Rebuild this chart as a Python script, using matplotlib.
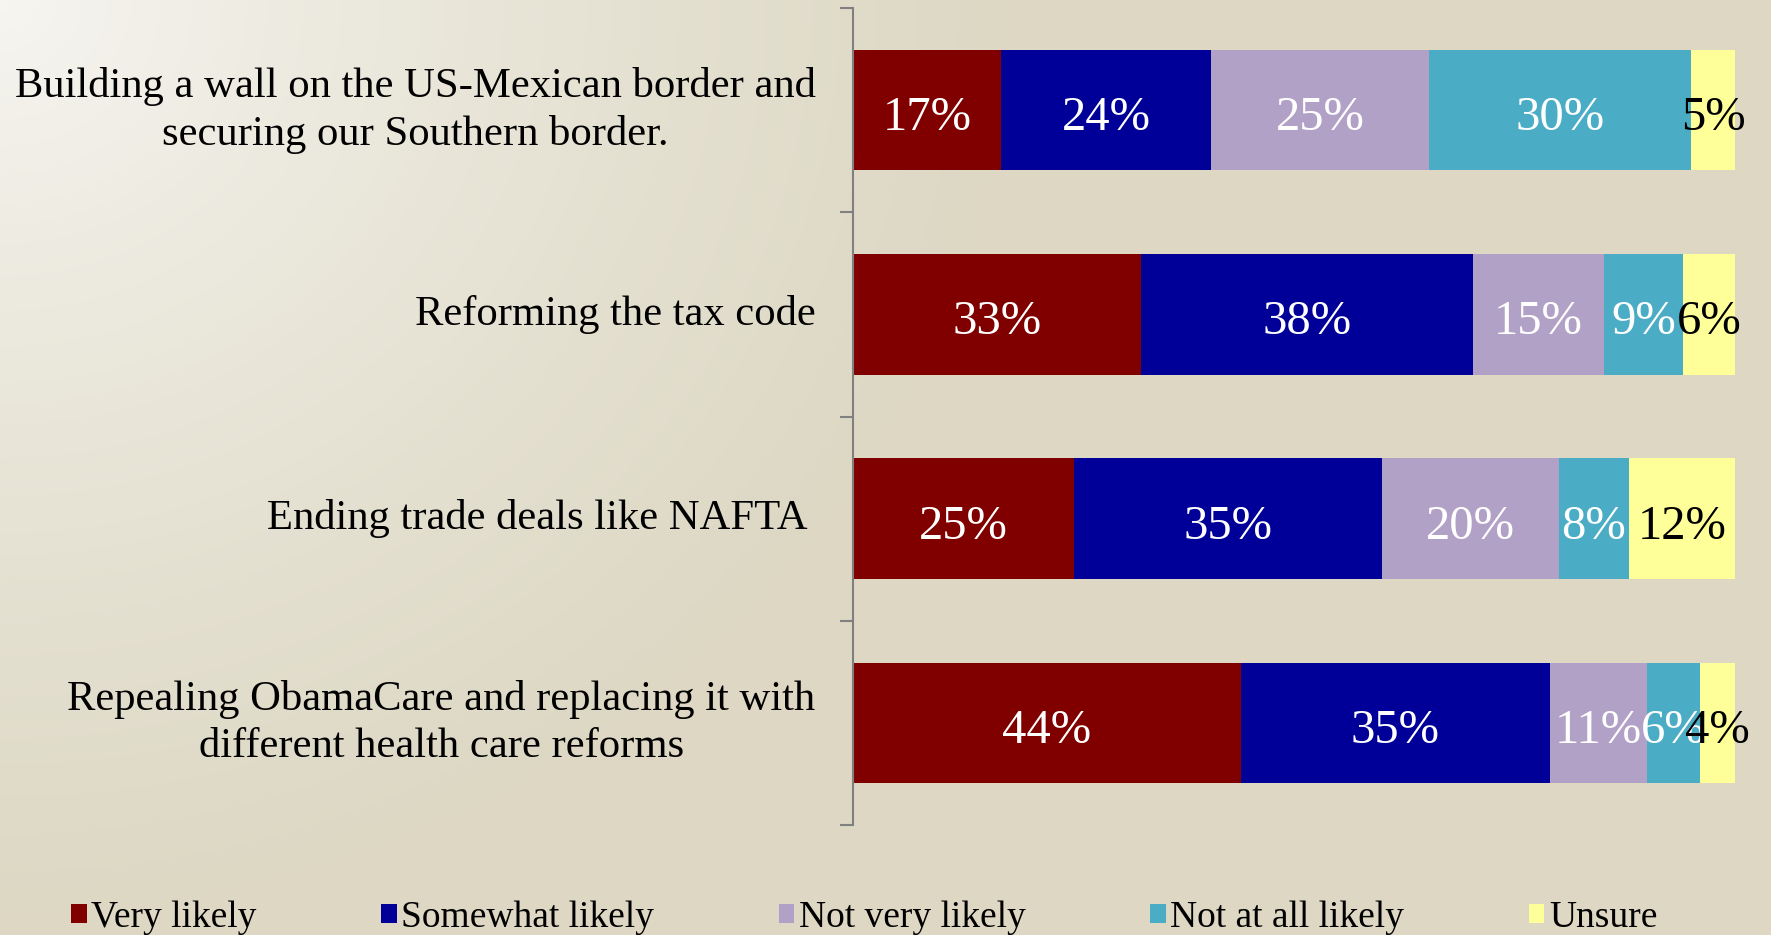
import matplotlib.pyplot as plt
import numpy as np

categories = [
    'Building a wall on the US-Mexican border and\nsecuring our Southern border.',
    'Reforming the tax code',
    'Ending trade deals like NAFTA ',
    'Repealing ObamaCare and replacing it with\ndifferent health care reforms',
]
series = ['Very likely', 'Somewhat likely', 'Not very likely', 'Not at all likely', 'Unsure']
very_likely = [17, 33, 25, 44]
somewhat_likely = [24, 38, 35, 35]
not_very_likely = [25, 15, 20, 11]
not_at_all_likely = [30, 9, 8, 6]
unsure = [5, 6, 12, 4]

colors = ['#800000', '#000099', '#B2A1C7', '#4BACC6', '#FFFF99']
text_colors = ['white', 'white', 'white', 'white', 'black']

plt.rcParams['font.family'] = ['Liberation Serif', 'DejaVu Serif']

fig = plt.figure(figsize=(17.71, 9.35), dpi=100)

# background gradient, light in the top-left corner
bg = fig.add_axes([0, 0, 1, 1], zorder=-1)
h, w = 935, 1771
yy, xx = np.mgrid[0:h, 0:w]
t = np.clip(np.sqrt(xx ** 2 + (yy * 1.1) ** 2) / 1000, 0, 1) ** 0.8
c0 = np.array([247, 246, 242]) / 255
c1 = np.array([221, 216, 196]) / 255
img = c0[None, None, :] * (1 - t[..., None]) + c1[None, None, :] * t[..., None]
bg.imshow(img, aspect='auto', extent=[0, 1, 0, 1])
bg.axis('off')

ax = fig.add_axes([853 / 1771, 1 - 825 / 935, (1735 - 853) / 1771, (825 - 8) / 935])
ax.patch.set_alpha(0)

data = np.array([very_likely, somewhat_likely, not_very_likely, not_at_all_likely, unsure], dtype=float)
shares = data / data.sum(axis=0) * 100
y = np.arange(len(categories))
left = np.zeros(len(categories))
for i, name in enumerate(series):
    bars = ax.barh(y, shares[i], left=left, height=0.59, color=colors[i], label=name)
    for j, b in enumerate(bars):
        ax.text(left[j] + shares[i][j] / 2, y[j] + 0.015, f'{int(data[i][j])}%',
                ha='center', va='center_baseline', fontsize=35, color=text_colors[i])
    left += shares[i]

ax.set_xlim(0, 100)
ax.set_ylim(3.5, -0.5)
ax.set_xticks([])
ax.set_yticks(y)
ax.set_yticklabels(categories, fontsize=30.7, multialignment='center', linespacing=1.3, va='center')
ax.tick_params(axis='y', which='major', length=0, pad=27)
ax.set_yticks([-0.5, 0.5, 1.5, 2.5, 3.5], minor=True)
ax.tick_params(axis='y', which='minor', length=9.5, width=1.5, color='#808080')
for s in ['top', 'right', 'bottom']:
    ax.spines[s].set_visible(False)
ax.spines['left'].set_color('#808080')
ax.spines['left'].set_linewidth(1.5)

fig.legend(loc='lower left', bbox_to_anchor=(52 / 1771, -0.02), ncol=5, frameon=False,
           fontsize=27, handlelength=0.42, handleheight=0.42, handletextpad=0.12,
           columnspacing=3.32, borderpad=0)

fig.savefig('out.png', dpi=100)
